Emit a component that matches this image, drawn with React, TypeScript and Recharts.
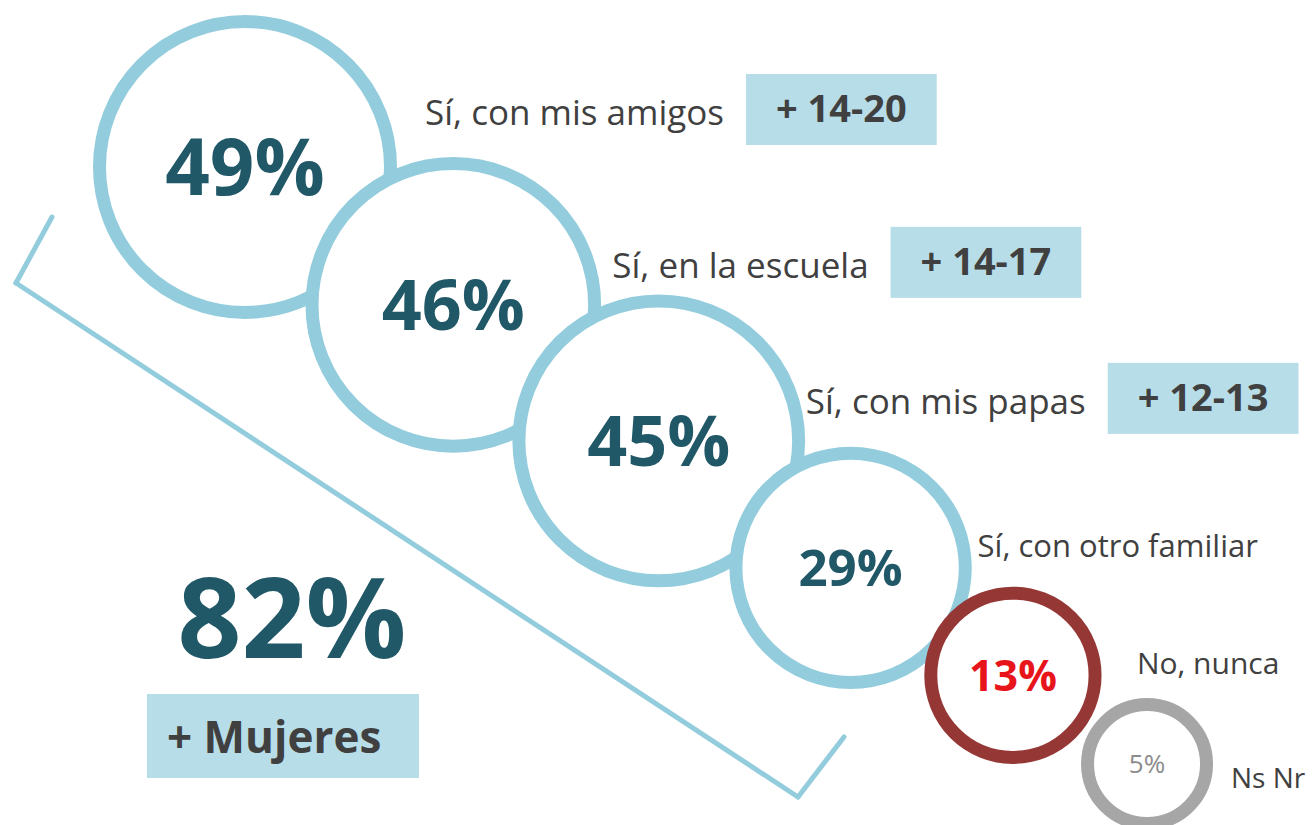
import { ScatterChart, Scatter, XAxis, YAxis, ZAxis, ReferenceLine, Customized } from "recharts";

// answers and their share
const categories = [
  "Sí, con mis amigos",
  "Sí, en la escuela",
  "Sí, con mis papas",
  "Sí, con otro familiar",
  "No, nunca",
  "Ns Nr",
];
const values = [49, 46, 45, 29, 13, 5];
// segment that answers more often
const segments = ["+ 14-20", "+ 14-17", "+ 12-13", "", "", ""];
const totalYes = 82;
const totalNote = "+ Mujeres";

const W = 1315;
const H = 825;
const FONT = '"Open Sans", sans-serif';
const BLUE = "#93cddd";
const BOX = "#b7dde8";
const DARK = "#215868";
const TEXT = "#404040";
const RING_COLORS = [BLUE, BLUE, BLUE, BLUE, "#953735", "#a6a6a6"];
const PCT_COLORS = [DARK, DARK, DARK, DARK, "#e8141b", "#8c8c8c"];
const PCT_SIZES = [78, 70, 70, 51, 43, 26];
const PCT_WEIGHTS = [700, 700, 700, 700, 700, 400];
const LABEL_SIZES = [35, 35, 35, 31, 30, 28];
const LABEL_OFFSETS = [
  [180, -42],
  [159, -27],
  [147, -27],
  [127, -11],
  [124, -1],
  [84, 24],
];
const RING_W = 13;

// bubble radius (stroke centre) grows linearly in area with the value
const R_MIN = 59.5;
const R_MAX = 145.5;
const V_MIN = 5;
const V_MAX = 49;
const radiusOf = (v: number) =>
  Math.sqrt(R_MIN ** 2 + ((v - V_MIN) * (R_MAX ** 2 - R_MIN ** 2)) / (V_MAX - V_MIN));

// bubbles are chained down a diagonal, each one overlapping the previous
const START = { x: 245, y: 167 };
const ANGLE = (33.5 * Math.PI) / 180;
const bubbles: { name: string; value: number; seg: string; idx: number; x: number; y: number }[] = [];
values.forEach((v, i) => {
  let x = START.x;
  let y = START.y;
  if (i > 0) {
    const prev = bubbles[i - 1];
    const d = 0.613 * (radiusOf(values[i - 1]) + radiusOf(v)) + 74;
    x = prev.x + d * Math.cos(ANGLE);
    y = prev.y + d * Math.sin(ANGLE);
  }
  bubbles.push({ name: categories[i], value: v, seg: segments[i], idx: i, x, y });
});

// bracket grouping the "yes" answers
const bracket = [
  { x: 52, y: 217 },
  { x: 16, y: 283 },
  { x: 798, y: 797 },
  { x: 844, y: 737 },
];

let ctx: CanvasRenderingContext2D | null = null;
function textWidth(text: string, font: string) {
  if (!ctx) ctx = document.createElement("canvas").getContext("2d");
  if (!ctx) return text.length * 16;
  ctx.font = font;
  return ctx.measureText(text).width;
}

const SEG_SIZE = 38;

function Bubble(props: any) {
  const { cx, cy, width, payload } = props;
  const i = payload.idx;
  const r = width / 2;
  const [dx, dy] = LABEL_OFFSETS[i];
  const lx = cx + dx;
  const ly = cy + dy;
  const lw = textWidth(payload.name, `${LABEL_SIZES[i]}px ${FONT}`);
  const bx = lx + lw + 22;
  const bw = payload.seg ? textWidth(payload.seg, `700 ${SEG_SIZE}px ${FONT}`) + 60 : 0;
  return (
    <g>
      <circle cx={cx} cy={cy} r={r} fill="#fff" stroke={RING_COLORS[i]} strokeWidth={RING_W} />
      <text
        x={cx}
        y={cy}
        dy="0.36em"
        textAnchor="middle"
        fontFamily={FONT}
        fontSize={PCT_SIZES[i]}
        fontWeight={PCT_WEIGHTS[i]}
        fill={PCT_COLORS[i]}
      >
        {payload.value}%
      </text>
      <text x={lx} y={ly} fontFamily={FONT} fontSize={LABEL_SIZES[i]} fill={TEXT}>
        {payload.name}
      </text>
      {payload.seg && (
        <g>
          <rect x={bx} y={ly - 51} width={bw} height={71} fill={BOX} />
          <text
            x={bx + bw / 2}
            y={ly - 3}
            textAnchor="middle"
            fontFamily={FONT}
            fontSize={SEG_SIZE}
            fontWeight={700}
            fill={TEXT}
          >
            {payload.seg}
          </text>
        </g>
      )}
    </g>
  );
}

function Total() {
  return (
    <g>
      <text x={292} y={658} textAnchor="middle" fontFamily={FONT} fontSize={112} fontWeight={700} fill={DARK}>
        {totalYes}%
      </text>
      <rect x={147} y={694} width={272} height={84} fill={BOX} />
      <text x={167} y={753} fontFamily={FONT} fontSize={44} fontWeight={700} fill={TEXT}>
        {totalNote}
      </text>
    </g>
  );
}

export default function App() {
  return (
    <div style={{ position: "absolute", left: 0, top: 0, background: "#fff" }}>
      <ScatterChart width={W} height={H} margin={{ top: 0, right: 0, bottom: 0, left: 0 }}>
        <XAxis type="number" dataKey="x" domain={[0, W]} hide allowDataOverflow />
        <YAxis type="number" dataKey="y" domain={[0, H]} reversed hide allowDataOverflow />
        <ZAxis
          type="number"
          dataKey="value"
          domain={[V_MIN, V_MAX]}
          range={[Math.PI * R_MIN ** 2, Math.PI * R_MAX ** 2]}
        />
        {bracket.slice(1).map((p, i) => (
          <ReferenceLine
            key={i}
            segment={[bracket[i], p]}
            stroke={BLUE}
            strokeWidth={5}
            strokeLinecap="round"
            ifOverflow="visible"
          />
        ))}
        <Customized component={Total} />
        <Scatter data={bubbles} shape={Bubble} isAnimationActive={false} />
      </ScatterChart>
    </div>
  );
}
